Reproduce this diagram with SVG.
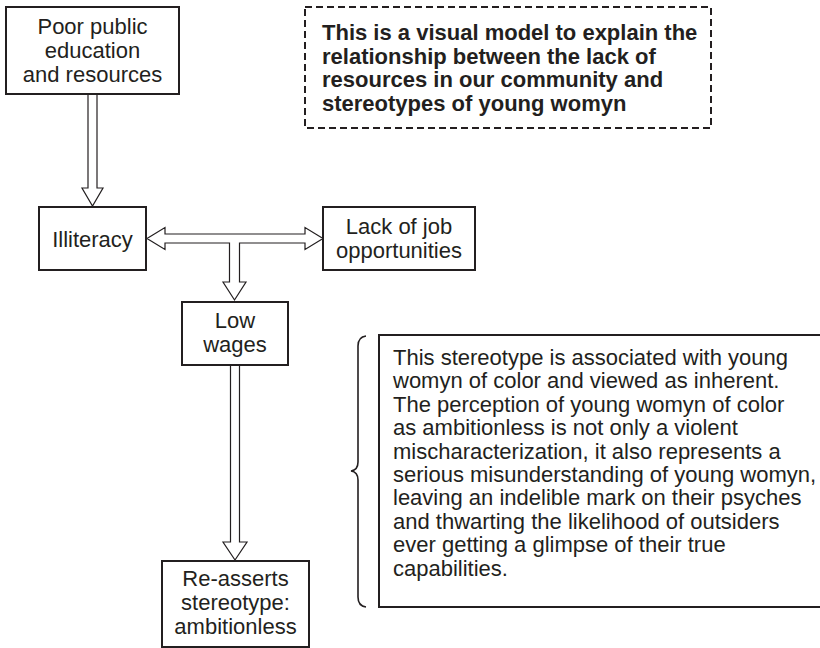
<svg xmlns="http://www.w3.org/2000/svg" width="820" height="648" viewBox="0 0 820 648">
<style>
.box{fill:#fff;stroke:#231f20;stroke-width:2}
.dash{fill:#fff;stroke:#231f20;stroke-width:2;stroke-dasharray:7 4}
.t{font-family:"Liberation Sans",Arial,sans-serif;font-size:22px;fill:#231f20}
.c{text-anchor:middle}
.b{font-weight:bold}
.arr{fill:#fff;stroke:#231f20;stroke-width:1.2;stroke-linejoin:miter}
.brace{fill:none;stroke:#231f20;stroke-width:1.6}
</style>
<rect width="820" height="648" fill="#fff"/>
<g id="connectors">
<polygon class="arr" points="88,94 97,94 97,188 103,188 92.5,206 82,188 88,188"/>
<polygon class="arr" points="147,238.5 165,227.5 165,234 305,234 305,227.5 323,238.5 305,249.5 305,243 239.5,243 239.5,282 246,282 234.5,300 223,282 229.5,282 229.5,243 165,243 165,249.5"/>
<polygon class="arr" points="230.5,365 239.5,365 239.5,542 247,542 235,560 223,542 230.5,542"/>
</g>
<g id="poor-public">
<rect class="box" x="6" y="7" width="173" height="87"/>
<text class="t c" x="92.5" y="34">Poor public</text>
<text class="t c" x="92.5" y="58">education</text>
<text class="t c" x="92.5" y="82">and resources</text>
</g>
<g id="note">
<rect class="dash" x="305" y="7" width="406" height="121"/>
<text class="t b" x="322" y="40">This is a visual model to explain the</text>
<text class="t b" x="322" y="63.5">relationship between the lack of</text>
<text class="t b" x="322" y="87">resources in our community and</text>
<text class="t b" x="322" y="110.5">stereotypes of young womyn</text>
</g>
<g id="illiteracy">
<rect class="box" x="39" y="207" width="107" height="63"/>
<text class="t c" x="92.5" y="246.5">Illiteracy</text>
</g>
<g id="lack-of-job">
<rect class="box" x="323" y="207" width="152" height="63"/>
<text class="t c" x="399" y="234">Lack of job</text>
<text class="t c" x="399" y="258">opportunities</text>
</g>
<g id="low-wages">
<rect class="box" x="182" y="302" width="106" height="63"/>
<text class="t c" x="235" y="328">Low</text>
<text class="t c" x="235" y="352">wages</text>
</g>
<g id="reasserts">
<rect class="box" x="162" y="561" width="147" height="86"/>
<text class="t c" x="235.5" y="586">Re-asserts</text>
<text class="t c" x="235.5" y="610">stereotype:</text>
<text class="t c" x="235.5" y="634">ambitionless</text>
</g>
<g id="explanation">
<path class="brace" d="M366,336 Q358,337 358,346 L358,462 Q358,470 351,471 Q358,472 358,480 L358,597 Q358,606 366,607"/>
<rect class="box" x="379" y="335" width="445" height="272"/>
<text class="t" x="393" y="365">This stereotype is associated with young</text>
<text class="t" x="393" y="388.4">womyn of color and viewed as inherent.</text>
<text class="t" x="393" y="411.8">The perception of young womyn of color</text>
<text class="t" x="393" y="435.2">as ambitionless is not only a violent</text>
<text class="t" x="393" y="458.6">mischaracterization, it also represents a</text>
<text class="t" x="393" y="482">serious misunderstanding of young womyn,</text>
<text class="t" x="393" y="505.4">leaving an indelible mark on their psyches</text>
<text class="t" x="393" y="528.8">and thwarting the likelihood of outsiders</text>
<text class="t" x="393" y="552.2">ever getting a glimpse of their true</text>
<text class="t" x="393" y="575.6">capabilities.</text>
</g>
</svg>
